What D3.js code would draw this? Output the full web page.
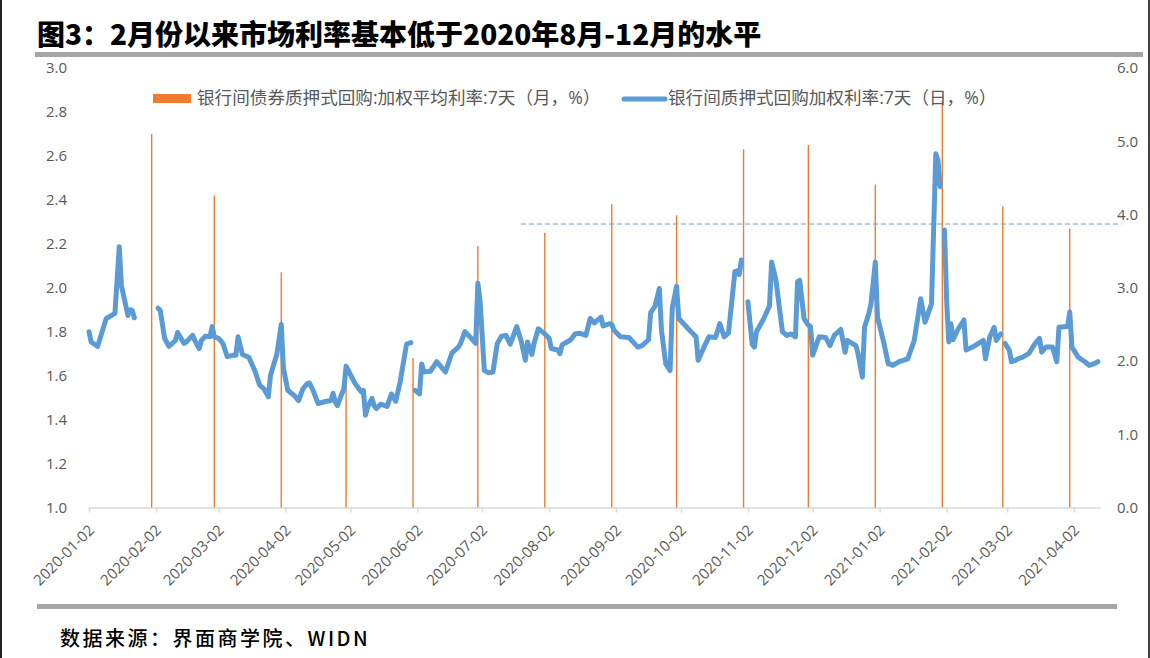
<!DOCTYPE html>
<html>
<head>
<meta charset="utf-8">
<script src="https://cdn.jsdelivr.net/npm/d3@7"></script>
<style>
  body { margin: 0; background: #fff; }
  svg { display: block; }
</style>
</head>
<body>
<svg id="chart" width="1150" height="658"></svg>
<script>
/* 银行间7天回购利率：月度加权平均（柱） + 日度加权利率（线） */

// 月度：银行间债券质押式回购 加权平均利率 7天（左轴, %）
const monthDates = [
  "2020-01-31","2020-02-29","2020-03-31","2020-04-30","2020-05-31",
  "2020-06-30","2020-07-31","2020-08-31","2020-09-30","2020-10-31",
  "2020-11-30","2020-12-31","2021-01-31","2021-02-28","2021-03-31"
];
const monthValues = [2.70, 2.42, 2.07, 1.56, 1.68, 2.19, 2.25, 2.38, 2.33, 2.63, 2.65, 2.47, 2.85, 2.37, 2.27];

// 日度：银行间质押式回购加权利率 7天（右轴, %），null = 缺值（线断开）
const dailyDates = [
  "2020-01-02","2020-01-03","2020-01-06","2020-01-09","2020-01-10","2020-01-14","2020-01-16","2020-01-17",
  "2020-01-19","2020-01-20","2020-01-21","2020-01-22","2020-01-23","2020-01-31",
  "2020-02-03","2020-02-04","2020-02-06","2020-02-08","2020-02-11","2020-02-12","2020-02-15","2020-02-16",
  "2020-02-19","2020-02-20","2020-02-22","2020-02-23","2020-02-25","2020-02-27","2020-02-28","2020-02-29",
  "2020-03-02","2020-03-04","2020-03-06","2020-03-09","2020-03-10","2020-03-11","2020-03-13","2020-03-16",
  "2020-03-19","2020-03-21","2020-03-23","2020-03-25","2020-03-26","2020-03-27","2020-03-29","2020-03-31",
  "2020-04-01","2020-04-03","2020-04-06","2020-04-08","2020-04-10","2020-04-12","2020-04-13","2020-04-15",
  "2020-04-17","2020-04-21","2020-04-23","2020-04-24","2020-04-25","2020-04-26","2020-04-28","2020-04-29",
  "2020-04-30","2020-05-04","2020-05-07","2020-05-08","2020-05-09","2020-05-10","2020-05-12","2020-05-13",
  "2020-05-14","2020-05-16","2020-05-19","2020-05-21","2020-05-23","2020-05-25","2020-05-28","2020-05-30",
  "2020-05-31",
  "2020-06-01","2020-06-03","2020-06-04","2020-06-05","2020-06-08","2020-06-11","2020-06-15","2020-06-18",
  "2020-06-21","2020-06-22","2020-06-24","2020-06-27","2020-06-29","2020-06-30",
  "2020-07-01","2020-07-03","2020-07-05","2020-07-07","2020-07-09","2020-07-11","2020-07-13","2020-07-15",
  "2020-07-18","2020-07-20","2020-07-22","2020-07-23","2020-07-25","2020-07-26","2020-07-28","2020-07-31",
  "2020-08-02","2020-08-03","2020-08-06","2020-08-07","2020-08-08","2020-08-12","2020-08-14","2020-08-16",
  "2020-08-19","2020-08-21","2020-08-23","2020-08-26","2020-08-27","2020-08-30","2020-08-31",
  "2020-09-01","2020-09-04","2020-09-08","2020-09-12","2020-09-14","2020-09-17","2020-09-18","2020-09-20",
  "2020-09-22","2020-09-23","2020-09-25","2020-09-27","2020-09-28","2020-09-30",
  "2020-10-01","2020-10-06","2020-10-09","2020-10-10","2020-10-13","2020-10-15","2020-10-18","2020-10-20",
  "2020-10-22","2020-10-24","2020-10-27","2020-10-28","2020-10-29","2020-10-30","2020-10-31",
  "2020-11-02","2020-11-04","2020-11-05","2020-11-06","2020-11-09","2020-11-12","2020-11-13","2020-11-15",
  "2020-11-18","2020-11-20","2020-11-22","2020-11-24","2020-11-25","2020-11-26","2020-11-28","2020-11-30",
  "2020-12-01","2020-12-02","2020-12-05","2020-12-08","2020-12-10","2020-12-12","2020-12-15","2020-12-17",
  "2020-12-18","2020-12-22","2020-12-23","2020-12-25","2020-12-26","2020-12-28","2020-12-29","2020-12-31",
  "2021-01-01","2021-01-04","2021-01-06","2021-01-07","2021-01-08","2021-01-11","2021-01-14","2021-01-15",
  "2021-01-18","2021-01-21","2021-01-23","2021-01-26","2021-01-28","2021-01-29","2021-01-30","2021-01-31",
  "2021-02-01","2021-02-02","2021-02-03","2021-02-04","2021-02-05","2021-02-07","2021-02-10","2021-02-11",
  "2021-02-14","2021-02-19","2021-02-20","2021-02-22","2021-02-24","2021-02-25","2021-02-27","2021-02-28",
  "2021-03-01","2021-03-03","2021-03-04","2021-03-06","2021-03-07","2021-03-09","2021-03-12","2021-03-15",
  "2021-03-17","2021-03-18","2021-03-20","2021-03-23","2021-03-25","2021-03-26","2021-03-30","2021-03-31",
  "2021-04-01","2021-04-04","2021-04-07","2021-04-09","2021-04-11","2021-04-13"
];
const dailyValues = [
  2.40, 2.26, 2.20, 2.49, 2.58, 2.65, 3.56, 3.03,
  2.76, 2.62, 2.70, 2.69, 2.59, null,
  2.72, 2.69, 2.31, 2.20, 2.28, 2.39, 2.24, 2.26,
  2.35, 2.28, 2.17, 2.28, 2.34, 2.33, 2.47, 2.33,
  2.31, 2.24, 2.06, 2.08, 2.08, 2.33, 2.09, 2.05,
  1.85, 1.67, 1.62, 1.51, 1.80, 1.90, 2.10, 2.50,
  1.90, 1.60, 1.53, 1.46, 1.62, 1.69, 1.70, 1.58,
  1.42, 1.45, 1.46, 1.56, 1.44, 1.39, 1.55, 1.62,
  1.93, 1.70, 1.58, 1.60, 1.26, 1.37, 1.49, 1.39,
  1.35, 1.41, 1.38, 1.55, 1.45, 1.71, 2.23, 2.25,
  null,
  1.60, 1.55, 1.96, 1.85, 1.86, 1.99, 1.85, 2.11,
  2.19, 2.24, 2.40, 2.31, 2.24, 3.06,
  2.83, 1.87, 1.84, 1.85, 2.24, 2.34, 2.35, 2.23,
  2.47, 2.28, 2.01, 2.26, 2.09, 2.24, 2.44, 2.37,
  2.31, 2.17, 2.15, 2.10, 2.22, 2.29, 2.37, 2.38,
  2.35, 2.58, 2.52, 2.60, 2.48, 2.51, 2.50,
  2.42, 2.33, 2.32, 2.19, 2.21, 2.29, 2.66, 2.75,
  2.99, 2.42, 1.96, 1.87, 2.72, 3.02,
  2.58, 2.42, 2.33, 2.01, 2.21, 2.33, 2.32, 2.51,
  2.33, 2.38, 3.22, 3.23, 3.18, 3.38, null,
  2.81, 2.23, 2.19, 2.40, 2.56, 2.75, 3.35, 3.10,
  2.40, 2.35, 2.37, 2.33, 3.08, 3.10, 2.58, 2.49,
  2.47, 2.08, 2.33, 2.32, 2.21, 2.35, 2.43, 2.12,
  2.28, 2.21, 2.10, 1.78, 2.46, 2.65, 2.78, 3.35,
  2.60, 2.24, 1.96, 1.96, 1.94, 1.99, 2.02, 2.03,
  2.28, 2.85, 2.53, 2.78, 4.83, 4.74, 4.38, null,
  3.79, 2.83, 2.26, 2.51, 2.29, 2.42, 2.56, 2.15,
  2.19, 2.28, 2.03, 2.33, 2.46, 2.28, 2.37, null,
  2.24, 2.15, 1.99, 2.01, 2.03, 2.05, 2.10, 2.24,
  2.31, 2.12, 2.19, 2.19, 1.99, 2.46, 2.47, 2.67,
  2.19, 2.05, 1.99, 1.94, 1.96, 1.99
];

// 虚线参考位（右轴）
const refDates = ["2020-07-20", "2021-04-24"];
const refLevel = 3.87;

// 坐标轴刻度
const xTickLabels = [
  "2020-01-02","2020-02-02","2020-03-02","2020-04-02","2020-05-02","2020-06-02","2020-07-02","2020-08-02",
  "2020-09-02","2020-10-02","2020-11-02","2020-12-02","2021-01-02","2021-02-02","2021-03-02","2021-04-02"
];
const leftTicks  = [1.0, 1.2, 1.4, 1.6, 1.8, 2.0, 2.2, 2.4, 2.6, 2.8, 3.0];
const rightTicks = [0, 1, 2, 3, 4, 5, 6];
const xDomain = ["2020-01-02", "2021-04-14"];

const TITLE  = "图3：2月份以来市场利率基本低于2020年8月-12月的水平";
const SOURCE = "数据来源：界面商学院、WIDN";
const LEG_M  = "银行间债券质押式回购:加权平均利率:7天（月，%）";
const LEG_D  = "银行间质押式回购加权利率:7天（日，%）";

const ORANGE = "#ED7D31", BLUE = "#5B9BD5", GREY_TXT = "#595959";
const LATIN = "'Open Sans', 'Noto Sans CJK SC', sans-serif";
const CJK   = "'Noto Sans CJK SC', sans-serif";

const parse = d3.utcParse("%Y-%m-%d");
const svg = d3.select("#chart");

const plotL = 89, plotR = 1100, plotT = 68, plotB = 507.5;

const x  = d3.scaleUtc().domain(xDomain.map(parse)).range([plotL, plotR]);
const yL = d3.scaleLinear().domain([1, 3]).range([plotB, plotT]);
const yR = d3.scaleLinear().domain([0, 6]).range([plotB, plotT]);

// ── frame, title, rules ──
svg.append("line").attr("x1", 1).attr("x2", 1).attr("y1", 0).attr("y2", 658)
  .attr("stroke", "#222").attr("stroke-width", 2);
svg.append("line").attr("x1", 1149).attr("x2", 1149).attr("y1", 0).attr("y2", 658)
  .attr("stroke", "#444").attr("stroke-width", 2);

svg.append("text")
  .attr("x", 37).attr("y", 45)
  .attr("font-family", CJK).attr("font-weight", 900).attr("font-size", 28)
  .attr("fill", "#000")
  .text(TITLE);

svg.append("rect").attr("x", 35).attr("y", 52).attr("width", 1108).attr("height", 5).attr("fill", "#A6A6A6");
svg.append("rect").attr("x", 37).attr("y", 604).attr("width", 1080).attr("height", 5).attr("fill", "#A6A6A6");

svg.append("text")
  .attr("x", 60).attr("y", 646)
  .attr("font-family", CJK).attr("font-weight", 500).attr("font-size", 20)
  .attr("letter-spacing", 2.5)
  .attr("fill", "#000")
  .text(SOURCE);

// ── axes ──
const gx = svg.append("g").attr("transform", `translate(0,${plotB})`)
  .call(d3.axisBottom(x)
    .tickValues(xTickLabels.map(parse))
    .tickFormat(d3.utcFormat("%Y-%m-%d"))
    .tickSize(5).tickSizeOuter(0));
gx.select(".domain").attr("stroke", "#D9D9D9").attr("stroke-width", 1.5);
gx.selectAll(".tick line").attr("stroke", "#D9D9D9").attr("stroke-width", 1.5);
gx.selectAll(".tick text")
  .attr("x", 0).attr("y", 0).attr("dy", "0.35em")
  .attr("text-anchor", "end")
  .attr("transform", "translate(2,20) rotate(-45)")
  .attr("font-family", LATIN).attr("font-size", 15).attr("fill", GREY_TXT);

const gl = svg.append("g").attr("transform", `translate(${plotL},0)`)
  .call(d3.axisLeft(yL).tickValues(leftTicks).tickFormat(d3.format(".1f")).tickSize(0).tickPadding(22));
gl.select(".domain").remove();
gl.selectAll("text").attr("font-family", LATIN).attr("font-size", 15).attr("fill", GREY_TXT);

const gr = svg.append("g").attr("transform", `translate(${plotR},0)`)
  .call(d3.axisRight(yR).tickValues(rightTicks).tickFormat(d3.format(".1f")).tickSize(0).tickPadding(17));
gr.select(".domain").remove();
gr.selectAll("text").attr("font-family", LATIN).attr("font-size", 15).attr("fill", GREY_TXT);

// ── monthly bars (left axis) ──
const monthly = monthDates.map((d, i) => ({ date: parse(d), v: monthValues[i] }));
svg.append("g").selectAll("line")
  .data(monthly)
  .join("line")
    .attr("x1", d => x(d.date)).attr("x2", d => x(d.date))
    .attr("y1", yL(1)).attr("y2", d => yL(d.v))
    .attr("stroke", ORANGE).attr("stroke-width", 1.4);

// ── reference dashed line ──
svg.append("line")
  .attr("x1", x(parse(refDates[0]))).attr("x2", x(parse(refDates[1])))
  .attr("y1", yR(refLevel)).attr("y2", yR(refLevel))
  .attr("stroke", "#6A9FD3").attr("stroke-width", 1)
  .attr("stroke-dasharray", "5,3");

// ── daily line (right axis) ──
const daily = dailyDates.map((d, i) => ({ date: parse(d), v: dailyValues[i] }));
const line = d3.line()
  .defined(d => d.v != null)
  .x(d => x(d.date))
  .y(d => yR(d.v));

svg.append("path")
  .datum(daily)
  .attr("d", line)
  .attr("fill", "none")
  .attr("stroke", BLUE).attr("stroke-width", 5)
  .attr("stroke-linejoin", "round").attr("stroke-linecap", "round");

// ── legend ──
const legY = 98;
svg.append("rect").attr("x", 153).attr("y", legY - 4).attr("width", 38).attr("height", 9).attr("fill", ORANGE);
svg.append("text").attr("x", 197).attr("y", legY).attr("dy", "0.35em")
  .attr("font-family", LATIN).attr("font-size", 17.6).attr("fill", GREY_TXT)
  .text(LEG_M);

svg.append("line").attr("x1", 624).attr("x2", 665).attr("y1", legY + 1).attr("y2", legY + 1)
  .attr("stroke", BLUE).attr("stroke-width", 5).attr("stroke-linecap", "round");
svg.append("text").attr("x", 668).attr("y", legY).attr("dy", "0.35em")
  .attr("font-family", LATIN).attr("font-size", 17.6).attr("fill", GREY_TXT)
  .text(LEG_D);
</script>
</body>
</html>
